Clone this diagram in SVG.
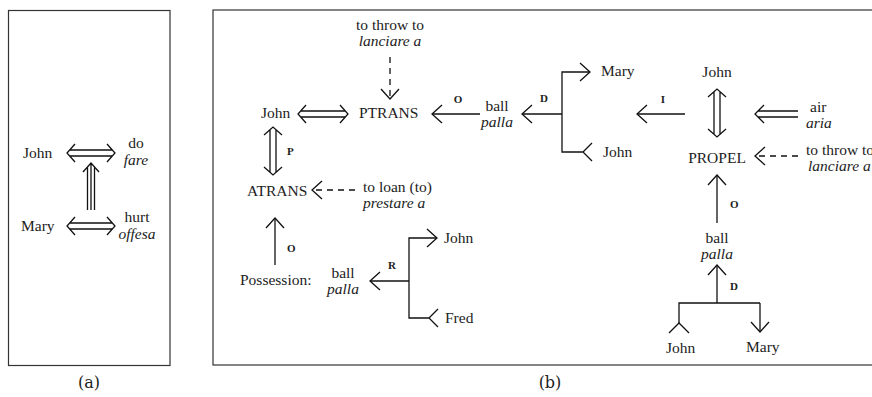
<svg xmlns="http://www.w3.org/2000/svg" width="872" height="397" viewBox="0 0 872 397">
<style>
text{font-family:"Liberation Serif","Times New Roman",serif;font-size:15.5px;fill:#222}
.i{font-style:italic}
.m{text-anchor:middle}
.b{font-weight:bold;font-size:11px}
.cap{font-family:"DejaVu Serif",serif;font-size:16px;text-anchor:middle}
.ln{fill:none;stroke:#111;stroke-width:1.3}
.d{stroke-dasharray:6 5}
.a{marker-end:url(#h)}
.box{fill:none;stroke:#333;stroke-width:1.2}
</style>
<defs>
<marker id="h" markerUnits="userSpaceOnUse" markerWidth="14" markerHeight="22" refX="11" refY="10" orient="auto" overflow="visible">
<path d="M1,1 L11,10 L1,19" fill="none" stroke="#111" stroke-width="1.3"/>
</marker>
</defs>
<rect class="box" x="8.5" y="10.5" width="161.5" height="355"/>
<rect class="box" x="213" y="10" width="700" height="355"/>
<text class="cap" x="89" y="388">(a)</text>
<text class="cap" x="550" y="388">(b)</text>

<g id="a-john"><text x="23" y="158">John</text></g>
<g id="a-do"><text class="m" x="136" y="148">do</text><text class="m i" x="136" y="165">fare</text></g>
<g id="a-mary"><text x="21" y="231">Mary</text></g>
<g id="a-hurt"><text class="m" x="137" y="222">hurt</text><text class="m i" x="137" y="239">offesa</text></g>

<g id="b-throw1"><text class="m" x="390" y="30">to throw to</text><text class="m i" x="390" y="46">lanciare a</text></g>
<g id="b-john1"><text x="261" y="118">John</text></g>
<g id="b-ptrans"><text x="359" y="118">PTRANS</text></g>
<g id="b-ball1"><text class="m" x="497" y="111">ball</text><text class="m i" x="497" y="127">palla</text></g>
<g id="b-mary1"><text x="601" y="76">Mary</text></g>
<g id="b-john2"><text x="603" y="157">John</text></g>
<g id="b-john3"><text class="m" x="717" y="77">John</text></g>
<g id="b-propel"><text class="m" x="717" y="163">PROPEL</text></g>
<g id="b-air"><text x="810" y="112">air</text><text class="i" x="806" y="128">aria</text></g>
<g id="b-throw2"><text x="806" y="155">to throw to</text><text class="i" x="808" y="171">lanciare a</text></g>
<g id="b-atrans"><text x="247" y="196">ATRANS</text></g>
<g id="b-loan"><text x="363" y="192">to loan (to)</text><text class="i" x="363" y="208">prestare a</text></g>
<g id="b-poss"><text x="240" y="285">Possession:</text></g>
<g id="b-ball2"><text class="m" x="343" y="278">ball</text><text class="m i" x="343" y="294">palla</text></g>
<g id="b-john4"><text x="444" y="243">John</text></g>
<g id="b-fred"><text x="445" y="323">Fred</text></g>
<g id="b-ball3"><text class="m" x="717" y="243">ball</text><text class="m i" x="717" y="259">palla</text></g>
<g id="b-john5"><text x="666" y="353">John</text></g>
<g id="b-mary2"><text x="746" y="352">Mary</text></g>

<g id="connectors">
<!-- panel a -->
<path class="ln" d="M75,144 L67,153 L75,162 M107,144 L115,153 L107,162 M70,150 H112 M70,156 H112"/>
<path class="ln" d="M75,217 L67,226 L75,235 M107,217 L115,226 L107,235 M70,223 H112 M70,229 H112"/>
<path class="ln" d="M83,172 L91,163 L99,172 M87.5,167 V210 M91,164 V210 M94.5,167 V210"/>
<!-- panel b -->
<path class="ln d a" d="M390,57 V99"/>
<path class="ln" d="M306,105 L298,114 L306,123 M340,105 L348,114 L340,123 M301,111 H345 M301,117 H345"/>
<path class="ln a" d="M480,114 H432"/>
<text class="b m" x="458" y="103">O</text>
<path class="ln a" d="M562,114 H522"/>
<text class="b m" x="544" y="102">D</text>
<path class="ln a" d="M562,114 V72 H590"/>
<path class="ln" d="M562,114 V152 H583 M592,143 L583,152 L592,161"/>
<path class="ln a" d="M685,114 H637"/>
<text class="b m" x="663" y="103">I</text>
<path class="ln" d="M708,97 L717,89 L726,97 M708,129 L717,137 L726,129 M714,92 V134 M720,92 V134"/>
<path class="ln" d="M764,105 L755,114 L764,123 M758,111 H798 M758,117 H798"/>
<path class="ln d a" d="M798,156 H755"/>
<path class="ln a" d="M717,223 V175"/>
<text class="b" x="730" y="208">O</text>
<path class="ln a" d="M717,303 V265"/>
<text class="b" x="730" y="290">D</text>
<path class="ln" d="M679,323 V303 H760"/>
<path class="ln" d="M669,333 L679,323 L689,333"/>
<path class="ln a" d="M760,303 V332"/>
<path class="ln" d="M264,135 L273,127 L282,135 M264,167 L273,175 L282,167 M270,130 V172 M276,130 V172"/>
<text class="b" x="287" y="155">P</text>
<path class="ln d a" d="M355,190 H312"/>
<path class="ln a" d="M275,265 V218"/>
<text class="b" x="287" y="252">O</text>
<path class="ln a" d="M409,281 H370"/>
<text class="b m" x="392" y="269">R</text>
<path class="ln a" d="M409,281 V238 H437"/>
<path class="ln" d="M409,281 V318 H429 M438,309 L429,318 L438,327"/>
</g>
</svg>
